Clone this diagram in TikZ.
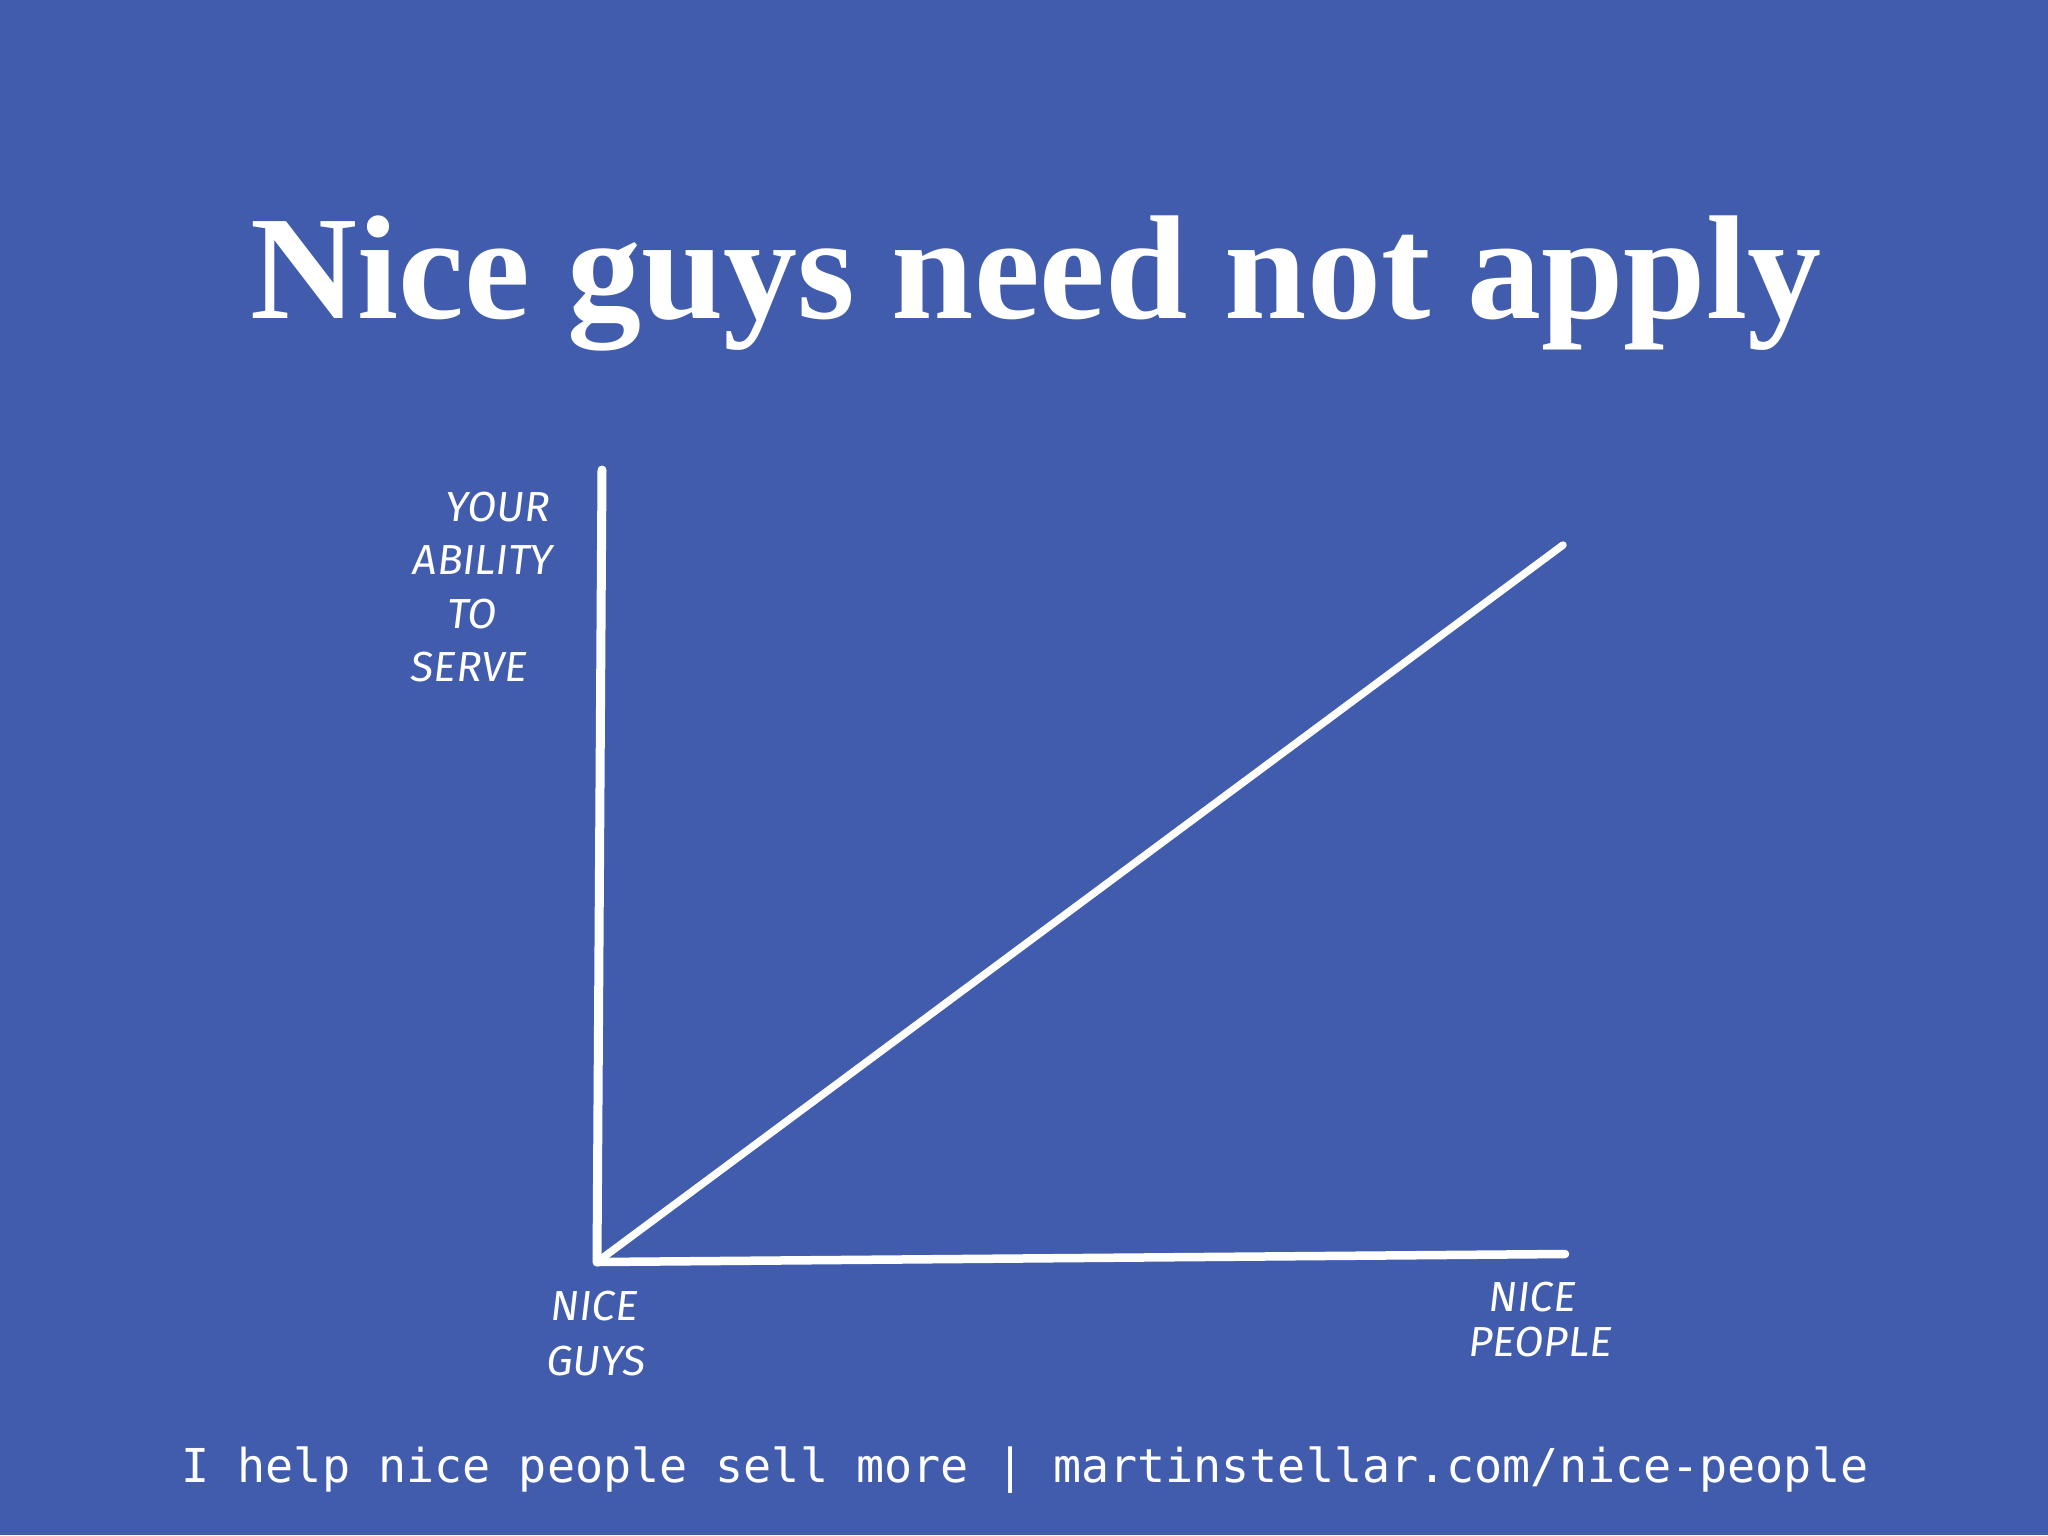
\documentclass[tikz,border=0pt]{standalone}
\usepackage{fontspec}
\setmainfont{Liberation Serif}
\newfontfamily\footfont{DejaVu Sans Mono}
\newfontfamily\handfont{Fira Sans}[FakeSlant=0.12]
\definecolor{bgblue}{RGB}{65,92,173}
\tikzset{
  axisline/.style={draw=white, line width=8.5pt, line cap=round, line join=round},
  hand/.style={text=white, inner sep=0pt, font=\handfont\fontsize{42}{42}\selectfont},
}
\begin{document}
\begin{tikzpicture}[x=1pt,y=-1pt]
\fill[bgblue] (0,0) rectangle (2048,1535);
\useasboundingbox (0,0) rectangle (2048,1535);
% title
\node[text=white, inner sep=0pt, anchor=base, font=\bfseries\fontsize{148}{148}\selectfont] (title) at (1036,318) {Nice guys need not apply};
% axes
\coordinate (origin) at (597,1262);
\coordinate (ytop) at (602,470);
\coordinate (xend) at (1565,1254);
\coordinate (dend) at (1563,545);
\draw[axisline, line width=9pt] (ytop) -- (origin);
\draw[axisline] (origin) -- (xend);
\draw[axisline, line width=7.5pt] (origin) -- (dend);
% y label
\node[hand] (your) at (497,507) {YOUR};
\node[hand] (ability) at (482,560) {ABILITY};
\node[hand] (to) at (471,614) {TO};
\node[hand] (serve) at (468,667) {SERVE};
% x labels
\node[hand] (nice1) at (593,1306) {NICE};
\node[hand] (guys) at (595,1361) {GUYS};
\node[hand] (nice2) at (1531,1297) {NICE};
\node[hand] (people) at (1539,1342) {PEOPLE};
% footer
\node[text=white, inner sep=0pt, anchor=base, font=\footfont\fontsize{46.7}{46.7}\selectfont] (footer) at (1025,1482) {I help nice people sell more | martinstellar.com/nice-people};
\end{tikzpicture}
\end{document}
